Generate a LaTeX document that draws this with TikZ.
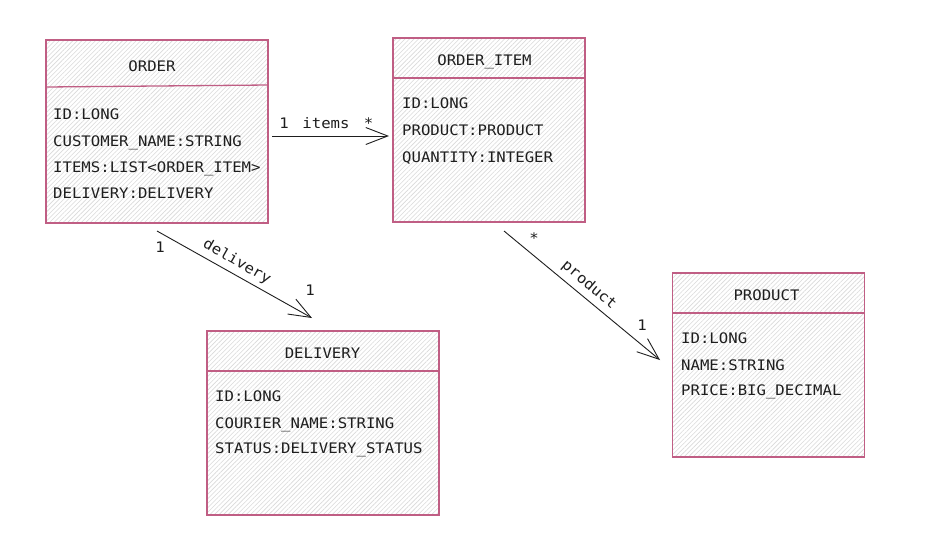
\documentclass[tikz,border=0pt]{standalone}
\usepackage{fontspec}
\setmainfont{DejaVu Sans Mono}[FakeStretch=1.08]
\usetikzlibrary{arrows.meta,patterns.meta}

\definecolor{classline}{RGB}{192,94,132}
\definecolor{hatch}{RGB}{218,218,218}
\definecolor{ink}{RGB}{30,30,30}

\tikzset{
  txt/.style={inner sep=0pt, text=ink, font=\fontsize{14.5}{16}\selectfont},
  classbox/.style={draw=classline, line width=1.3pt, inner sep=0pt,
    pattern={Lines[angle=45,distance=3.2pt,line width=0.6pt]}, pattern color=hatch},
  divider/.style={draw=classline, line width=1.3pt},
  title/.style={txt, anchor=base},
  attr/.style={txt, anchor=base west},
  lbl/.style={txt, anchor=base},
  rlbl/.style={txt},
  assoc/.style={line width=0.9pt, draw=ink, -{Straight Barb[length=22pt,width=17pt,line width=0.9pt]}}
}

\begin{document}
\begin{tikzpicture}[x=1pt,y=-1pt]
\useasboundingbox[fill=white] (0,0) rectangle (947,539);

% ORDER
\node[classbox, minimum width=222pt, minimum height=183pt] (order) at (157,131.5) {};
\draw[divider] (46,87) -- (268,85);
\node[title] (orderT) at (152,71.5) {ORDER};
\node[attr] (o1) at (53,119.5) {ID:LONG};
\node[attr] (o2) at (53,146.5) {CUSTOMER\_NAME:STRING};
\node[attr] (o3) at (53,172.5) {ITEMS:LIST<ORDER\_ITEM>};
\node[attr] (o4) at (53,198.5) {DELIVERY:DELIVERY};

% ORDER_ITEM
\node[classbox, minimum width=192pt, minimum height=184pt] (item) at (489,130) {};
\draw[divider] (393,78) -- (585,78);
\node[title] (itemT) at (484.5,65.5) {ORDER\_ITEM};
\node[attr] (i1) at (402,108.5) {ID:LONG};
\node[attr] (i2) at (402,135.5) {PRODUCT:PRODUCT};
\node[attr] (i3) at (402,162.5) {QUANTITY:INTEGER};

% DELIVERY
\node[classbox, minimum width=232pt, minimum height=184pt] (delivery) at (323,423) {};
\draw[divider] (207,371) -- (439,371);
\node[title] (deliveryT) at (322.5,358.5) {DELIVERY};
\node[attr] (d1) at (215,401.5) {ID:LONG};
\node[attr] (d2) at (215,428.5) {COURIER\_NAME:STRING};
\node[attr] (d3) at (215,453.5) {STATUS:DELIVERY\_STATUS};

% PRODUCT
\node[classbox, minimum width=192pt, minimum height=184pt] (product) at (768.5,365) {};
\draw[divider] (673,313) -- (865,313);
\node[title] (productT) at (766.5,300.5) {PRODUCT};
\node[attr] (p1) at (681,343.5) {ID:LONG};
\node[attr] (p2) at (681,370.5) {NAME:STRING};
\node[attr] (p3) at (681,395.5) {PRICE:BIG\_DECIMAL};

% association end points
\coordinate (itemsS) at (272,136);
\coordinate (itemsE) at (389,136);
\coordinate (delivS) at (157,231);
\coordinate (delivE) at (312,318);
\coordinate (prodS) at (504,231);
\coordinate (prodE) at (660,360);

% ORDER -> ORDER_ITEM
\draw[assoc] (itemsS) -- (itemsE);
\node[lbl] (itemsM1) at (284,128) {1};
\node[lbl] (itemsN) at (326,128) {items};
\node[lbl] (itemsM2) at (368.5,128) {*};

% ORDER -> DELIVERY
\draw[assoc] (delivS) -- (delivE);
\node[lbl] (delivM1) at (160,252) {1};
\node[rlbl, rotate=-29.6] (delivN) at (237,262) {delivery};
\node[lbl] (delivM2) at (310,295.5) {1};

% ORDER_ITEM -> PRODUCT
\draw[assoc] (prodS) -- (prodE);
\node[lbl] (prodM1) at (534,243) {*};
\node[rlbl, rotate=-39.8] (prodN) at (589,285) {product};
\node[lbl] (prodM2) at (642,330.5) {1};
\end{tikzpicture}
\end{document}
